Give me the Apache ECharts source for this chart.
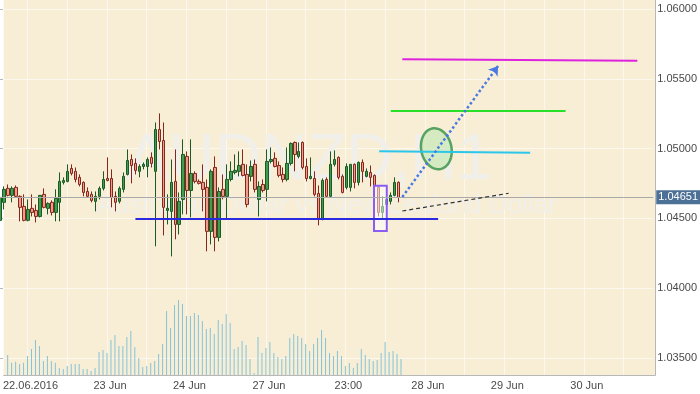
<!DOCTYPE html>
<html>
<head>
<meta charset="utf-8">
<script src="https://cdn.jsdelivr.net/npm/echarts@6/dist/echarts.min.js"></script>
<style>
html,body{margin:0;padding:0;background:#ffffff;}
#chart{width:700px;height:394px;}
</style>
</head>
<body>
<div id="chart"></div>
<script>
// ---------- data ----------
const categoryCount = 165;
const tickLabels = ['22.06.2016', '23 Jun', '24 Jun', '27 Jun', '23:00', '28 Jun', '29 Jun', '30 Jun'];
const firstLabelIndex = 6, labelStep = 20, gridStep = 10;

const opens = [1.04486,1.04615,1.04715,1.04665,1.04722,1.04658,1.04586,1.04486,1.04572,1.04557,
1.04514,1.04672,1.04572,1.04615,1.04543,1.04615,1.04758,1.04765,1.04858,1.04837,
1.04794,1.04758,1.04693,1.04672,1.04622,1.04658,1.04715,1.04786,1.04786,1.04658,
1.04622,1.04708,1.04815,1.04922,1.04894,1.04837,1.04872,1.04872,1.04937,1.04837,
1.05137,1.05058,1.04557,1.04550,1.04765,1.04457,1.04636,1.04944,1.04700,1.04822,
1.04765,1.04758,1.04722,1.04407,1.04865,1.04364,1.04708,1.04658,1.04779,1.04829,
1.04837,1.04887,1.04815,1.04801,1.04887,1.04636,1.04743,1.04708,1.04908,1.04930,
1.04879,1.04815,1.04779,1.04894,1.05044,1.04944,1.05044,1.04872,1.04786,1.04786,
1.04679,1.04500,1.04779,1.04658,1.04887,1.04937,1.04801,1.04722,1.04722,1.04887,
1.04758,1.04901,1.04801,1.04829,1.04808,1.04722,1.04543,1.04600,1.04622,1.04665,
1.04758];
const closes = [1.04650,1.04708,1.04665,1.04715,1.04658,1.04579,1.04486,1.04564,1.04543,1.04514,
1.04665,1.04579,1.04607,1.04543,1.04643,1.04765,1.04772,1.04837,1.04822,1.04779,
1.04743,1.04686,1.04658,1.04629,1.04658,1.04715,1.04779,1.04772,1.04650,1.04615,
1.04715,1.04801,1.04915,1.04879,1.04844,1.04872,1.04887,1.04922,1.04894,1.05137,
1.05051,1.04579,1.04572,1.04758,1.04457,1.04622,1.04958,1.04700,1.04822,1.04765,
1.04751,1.04708,1.04407,1.04837,1.04364,1.04693,1.04658,1.04779,1.04837,1.04844,
1.04879,1.04808,1.04600,1.04872,1.04708,1.04729,1.04700,1.04908,1.04922,1.04872,
1.04808,1.04779,1.04894,1.05037,1.04958,1.04980,1.04865,1.04786,1.04801,1.04672,
1.04500,1.04772,1.04658,1.04887,1.04922,1.04794,1.04686,1.04872,1.04887,1.04758,
1.04901,1.04837,1.04837,1.04794,1.04729,1.04543,1.04586,1.04636,1.04665,1.04758,
1.04650];
const lows = [1.04471,1.04564,1.04658,1.04615,1.04650,1.04479,1.04479,1.04479,1.04514,1.04471,
1.04507,1.04572,1.04529,1.04521,1.04479,1.04479,1.04743,1.04758,1.04808,1.04758,
1.04729,1.04658,1.04650,1.04615,1.04550,1.04636,1.04700,1.04765,1.04579,1.04550,
1.04607,1.04686,1.04808,1.04751,1.04815,1.04794,1.04851,1.04794,1.04865,1.04300,
1.04994,1.04378,1.04457,1.04228,1.04350,1.04385,1.04529,1.04529,1.04507,1.04751,
1.04743,1.04550,1.04264,1.04314,1.04264,1.04335,1.04636,1.04493,1.04765,1.04815,
1.04801,1.04801,1.04579,1.04765,1.04686,1.04514,1.04686,1.04622,1.04894,1.04865,
1.04794,1.04758,1.04765,1.04879,1.04837,1.04930,1.04851,1.04765,1.04779,1.04658,
1.04450,1.04486,1.04650,1.04650,1.04872,1.04779,1.04679,1.04708,1.04693,1.04715,
1.04736,1.04758,1.04794,1.04729,1.04686,1.04514,1.04493,1.04586,1.04600,1.04658,
1.04615];
const highs = [1.04665,1.04729,1.04743,1.04729,1.04736,1.04665,1.04672,1.04636,1.04672,1.04600,
1.04665,1.04715,1.04615,1.04629,1.04708,1.04829,1.04794,1.04887,1.04887,1.04865,
1.04815,1.04765,1.04722,1.04693,1.04693,1.04729,1.04837,1.04937,1.04851,1.04693,
1.04729,1.04829,1.04994,1.04958,1.04930,1.04887,1.04901,1.04937,1.04973,1.05187,
1.05252,1.05187,1.04672,1.04922,1.04994,1.04686,1.05066,1.04980,1.05066,1.04837,
1.04779,1.04887,1.04779,1.04851,1.04944,1.04722,1.04815,1.04887,1.04908,1.04958,
1.04980,1.04994,1.04887,1.04915,1.04922,1.04765,1.04779,1.04994,1.05008,1.04973,
1.04908,1.04865,1.05008,1.05044,1.05051,1.05044,1.05051,1.04930,1.04937,1.04837,
1.04736,1.04786,1.04794,1.04980,1.04987,1.04944,1.04815,1.04894,1.04887,1.04894,
1.04908,1.04922,1.04858,1.04879,1.04815,1.04729,1.04658,1.04650,1.04686,1.04794,
1.04765];
const volumes = [null,60,37,40,33,37,57,78,105,87,
42,57,42,37,21,18,27,33,33,33,
18,18,12,21,69,75,66,105,120,87,
87,114,132,84,51,24,27,36,42,63,
93,192,141,210,225,213,177,177,186,180,
162,138,141,123,165,153,183,156,78,84,
102,90,48,6,114,66,81,99,66,54,
48,57,111,123,117,111,93,72,93,111,
135,111,66,57,72,57,27,36,21,36,
78,60,48,42,45,66,99,69,72,63,
48];
const currentPrice = 1.04651;

// annotations, in data units: [category index, price]
const supportLine  = [[34, 1.04500], [110, 1.04500]];
const cyanLine     = [[95.2, 1.04981], [133.1, 1.04971]];
const greenLine    = [[98.1, 1.05274], [142, 1.05274]];
const magentaLine  = [[101, 1.05640], [160, 1.05630]];
const targetArrow  = [[101, 1.04653], [125.05, 1.05592]];
const trendLine    = [[101, 1.04553], [127.7, 1.04680]];
const ellipseCenter = [109.55, 1.04999];
const ellipseRadius = [3.8, 0.00148];
const focusBox = [[93.9, 1.04734], [97.1, 1.04410]];

// ---------- chart ----------
const ellipseTilt = 12;
const cats = Array.from({length: categoryCount}, (_, i) => String(i));
function labelIndexOk(i) { return i >= firstLabelIndex && (i - firstLabelIndex) % labelStep === 0; }
function gridIndexOk(i) { return i >= firstLabelIndex && (i - firstLabelIndex) % gridStep === 0; }
const candles = opens.map((o, i) => [o, closes[i], lows[i], highs[i]]);

const gridLine = '#fdf8ef';
const axisGray = '#b8b8b8';
const labelColor = '#4a4a4a';
const FONT = 'Liberation Sans, Arial, sans-serif';
const watermark = '#f0efe9';

function seg(coords, color, width, type) {
  return {coords: coords, lineStyle: {color: color, width: width, type: type || 'solid', opacity: 1}};
}

const chart = echarts.init(document.getElementById('chart'), null, {renderer: 'canvas'});
chart.setOption({
  animation: false,
  graphic: {elements: [
    {type: 'text', x: 309, y: 161, z: 1, zlevel: 0, silent: true,
     style: {text: 'AUDNZD,H1', font: '64px ' + FONT, fill: watermark, textAlign: 'center', textVerticalAlign: 'middle'}},
    {type: 'text', x: 327, y: 206, z: 1, zlevel: 0, silent: true,
     style: {text: 'Australian Dollar vs New Zealand Dollar', font: '26px ' + FONT, fill: watermark, textAlign: 'center', textVerticalAlign: 'middle'}}
  ]},
  grid: [
    {left: -0.7, right: 44.7, top: 0, bottom: 19, show: true, backgroundColor: '#f8eed6', borderWidth: 0, z: 0},
    {left: -0.7, right: 44.7, top: 9, bottom: 36, show: false}
  ],
  xAxis: [
    {gridIndex: 0, type: 'category', data: cats, boundaryGap: false,
     axisLine: {show: true, lineStyle: {color: axisGray}},
     axisTick: {show: false},
     axisLabel: {interval: (i) => labelIndexOk(i),
                 formatter: (v, i) => labelIndexOk(i) ? (tickLabels[(i - firstLabelIndex) / labelStep] || '') : '',
                 color: labelColor, fontSize: 11, fontFamily: FONT, margin: 5, padding: [0, 0, 0, 6]},
     splitLine: {show: true, interval: (i) => gridIndexOk(i), lineStyle: {color: gridLine, width: 1}}},
    {gridIndex: 1, type: 'category', data: cats, boundaryGap: false, show: false},
    {gridIndex: 1, type: 'value', min: 0, max: categoryCount - 1, show: false}
  ],
  yAxis: [
    {gridIndex: 0, type: 'value', min: 0, max: 1125, position: 'right',
     axisLine: {show: true, lineStyle: {color: axisGray}}, axisTick: {show: false},
     axisLabel: {show: false}, splitLine: {show: false}},
    {gridIndex: 1, type: 'value', min: 1.035, max: 1.06, interval: 0.005, position: 'right', scale: true,
     axisLine: {show: false},
     axisTick: {show: true, length: 3, lineStyle: {color: axisGray}},
     axisLabel: {color: labelColor, fontSize: 11, fontFamily: FONT, margin: 4, formatter: (v) => v.toFixed(5)},
     splitLine: {show: true, lineStyle: {color: gridLine, width: 1}}}
  ],
  series: [
    {type: 'bar', xAxisIndex: 0, yAxisIndex: 0, data: volumes, barWidth: 1, silent: true, z: 2,
     itemStyle: {color: '#84c3d7'}},
    {type: 'candlestick', xAxisIndex: 1, yAxisIndex: 1, data: candles, barWidth: 3, silent: true, z: 3,
     itemStyle: {color: '#3f9d4c', color0: '#ee9c8c', borderColor: '#1b5a26', borderColor0: '#85281b', borderWidth: 1},
     markLine: {silent: true, symbol: 'none', animation: false, precision: 5,
       data: [{yAxis: currentPrice}],
       lineStyle: {color: '#a9a9a9', width: 1, type: 'solid'},
       label: {show: true, position: 'end', distance: 3, formatter: currentPrice.toFixed(5),
               color: '#ffffff', backgroundColor: '#4c7096', fontSize: 11, fontFamily: FONT, padding: [2, 2, 1, 2]}}},
    {type: 'custom', xAxisIndex: 2, yAxisIndex: 1, data: [0], silent: true, z: 4,
     renderItem: (params, api) => {
       const p1 = api.coord(focusBox[0]);
       const p2 = api.coord(focusBox[1]);
       return {type: 'rect',
         shape: {x: Math.min(p1[0], p2[0]), y: Math.min(p1[1], p2[1]), width: Math.abs(p2[0] - p1[0]), height: Math.abs(p2[1] - p1[1])},
         style: {fill: 'rgba(255,255,255,0.5)', stroke: '#8a5cf2', lineWidth: 2}};
     }},
    {type: 'custom', xAxisIndex: 2, yAxisIndex: 1, data: [0], silent: true, z: 4,
     renderItem: (params, api) => {
       const c = api.coord(ellipseCenter);
       const e = api.coord([ellipseCenter[0] + ellipseRadius[0], ellipseCenter[1] + ellipseRadius[1]]);
       const b = Math.abs(e[0] - c[0]), a = Math.abs(e[1] - c[1]);
       const th = ellipseTilt * Math.PI / 180;
       const pts = [];
       for (let i = 0; i < 72; i++) {
         const t = i / 72 * 2 * Math.PI;
         const x = b * Math.cos(t), y = a * Math.sin(t);
         pts.push([c[0] + x * Math.cos(th) + y * Math.sin(th), c[1] - x * Math.sin(th) + y * Math.cos(th)]);
       }
       return {type: 'polygon', shape: {points: pts},
         style: {fill: 'rgba(190,232,178,0.6)', stroke: '#58a262', lineWidth: 2.5}};
     }},
    {type: 'lines', coordinateSystem: 'cartesian2d', xAxisIndex: 2, yAxisIndex: 1, silent: true, z: 5,
     symbol: 'none',
     data: [
       seg(supportLine, '#2a2ae2', 2),
       seg(cyanLine, '#2cc6ea', 2),
       seg(greenLine, '#28e028', 2),
       seg(magentaLine, '#de22de', 2),
       seg(trendLine, '#333333', 1.2, [4, 3])
     ]},
    {type: 'lines', coordinateSystem: 'cartesian2d', xAxisIndex: 2, yAxisIndex: 1, silent: true, z: 6,
     symbol: ['none', 'arrow'], symbolSize: 9,
     data: [seg(targetArrow, '#4a78e0', 2.5, 'dotted')]}
  ]
});
</script>
</body>
</html>
